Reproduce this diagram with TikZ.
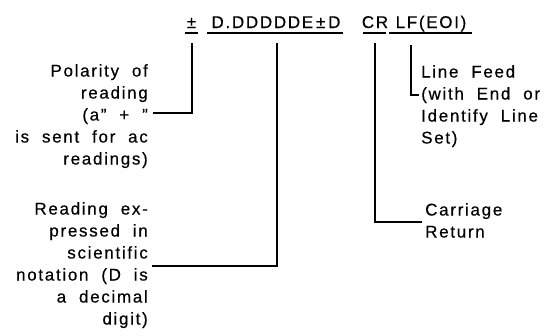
\documentclass[tikz,border=0pt]{standalone}
\usepackage{fontspec}
\setmainfont{Liberation Sans}[LetterSpace=10, WordSpace=2, FakeBold=0.4]
\begin{document}
\begin{tikzpicture}[x=1pt,y=-1pt,
  lbl/.style={inner sep=0pt, font=\fontsize{17}{22}\selectfont},
  toptext/.style={inner sep=0pt, font=\fontsize{17}{20}\selectfont, anchor=base},
  wire/.style={line width=1.8pt, line cap=butt, line join=miter},
  uline/.style={line width=1.6pt}]
\useasboundingbox (0,0) rectangle (554,335);
% top line
\node[toptext] (pm)  at (191.5,28) {±};
\node[toptext] (num) at (276,28) {D.DDDDDE\,±\,D};
\node[toptext] (cr)  at (375,28) {CR};
\node[toptext] (lf)  at (431,28) {LF(EOI)};
\draw[uline] (185,33) -- (198,33);
\draw[uline] (207,33) -- (343,33);
\draw[uline] (363,33) -- (386,33);
\draw[uline] (389,33) -- (472,33);
% labels
\node[lbl, align=right, anchor=north east] (pol) at (148,64)
  {Polarity of\\reading\\(a” + ”\\is sent for ac\\readings)};
\node[lbl, align=right, anchor=north east] (read) at (148,202)
  {Reading ex-\\pressed in\\scientific\\notation (D is\\a decimal\\digit)};
\node[lbl, align=left, anchor=north west] (lft) at (421,65)
  {Line Feed\\(with End or\\Identify Line\\Set)};
\node[lbl, align=left, anchor=north west] (crt) at (425,203)
  {Carriage\\Return};
% connector ends
\coordinate (pmT) at (192,43);
\coordinate (pmE) at (153,113);
\coordinate (numT) at (277,43);
\coordinate (numE) at (152,266);
\coordinate (crT) at (375,43);
\coordinate (crE) at (422,222);
\coordinate (lfT) at (411,45);
\coordinate (lfE) at (419,95);
\draw[wire] (pmT) |- (pmE);
\draw[wire] (numT) |- (numE);
\draw[wire] (crT) |- (crE);
\draw[wire] (lfT) |- (lfE);
\end{tikzpicture}
\end{document}
